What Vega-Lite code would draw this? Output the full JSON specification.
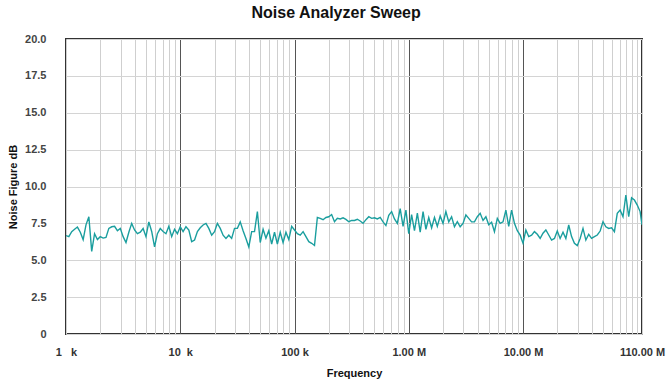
{
  "$schema": "https://vega.github.io/schema/vega-lite/v6.json",
  "width": 576,
  "height": 295,
  "autosize": {"type": "none"},
  "padding": {"left": 66, "top": 39, "right": 24, "bottom": 49},
  "background": "white",
  "title": {
    "text": "Noise Analyzer Sweep",
    "font": "Liberation Sans",
    "fontSize": 16,
    "fontWeight": "bold",
    "color": "#111111",
    "anchor": "middle",
    "frame": "bounds",
    "offset": 12
  },
  "config": {
    "view": {"stroke": "#333333", "strokeWidth": 2},
    "font": "Liberation Sans"
  },
  "data": {
    "values": [
      {"f": 1000, "nf": 6.67}, {"f": 1059, "nf": 6.6}, {"f": 1122, "nf": 6.94}, {"f": 1189, "nf": 7.1}, {"f": 1259, "nf": 7.25},
      {"f": 1334, "nf": 6.9}, {"f": 1413, "nf": 6.4}, {"f": 1496, "nf": 7.4}, {"f": 1585, "nf": 7.95}, {"f": 1679, "nf": 5.6},
      {"f": 1778, "nf": 6.8}, {"f": 1884, "nf": 6.4}, {"f": 1995, "nf": 6.6}, {"f": 2113, "nf": 6.5}, {"f": 2239, "nf": 6.55},
      {"f": 2371, "nf": 7.16}, {"f": 2512, "nf": 7.27}, {"f": 2661, "nf": 7.3}, {"f": 2818, "nf": 7.0}, {"f": 2985, "nf": 7.16},
      {"f": 3162, "nf": 6.6}, {"f": 3350, "nf": 6.2}, {"f": 3548, "nf": 6.9}, {"f": 3758, "nf": 7.5}, {"f": 3981, "nf": 7.05},
      {"f": 4217, "nf": 6.8}, {"f": 4467, "nf": 6.9}, {"f": 4732, "nf": 7.15}, {"f": 5012, "nf": 6.6}, {"f": 5309, "nf": 7.6},
      {"f": 5623, "nf": 6.95}, {"f": 5957, "nf": 5.9}, {"f": 6310, "nf": 6.8}, {"f": 6683, "nf": 7.15}, {"f": 7079, "nf": 6.95},
      {"f": 7499, "nf": 6.8}, {"f": 7943, "nf": 7.3}, {"f": 8414, "nf": 6.6}, {"f": 8913, "nf": 7.1}, {"f": 9441, "nf": 6.8},
      {"f": 10000, "nf": 7.27}, {"f": 10590, "nf": 6.94}, {"f": 11220, "nf": 7.27}, {"f": 11890, "nf": 7.05}, {"f": 12590, "nf": 6.26},
      {"f": 13340, "nf": 6.37}, {"f": 14130, "nf": 6.94}, {"f": 14960, "nf": 7.2}, {"f": 15850, "nf": 7.39}, {"f": 16790, "nf": 7.5},
      {"f": 17780, "nf": 7.16}, {"f": 18840, "nf": 6.7}, {"f": 19950, "nf": 6.94}, {"f": 21130, "nf": 7.5}, {"f": 22390, "nf": 7.16},
      {"f": 23710, "nf": 6.7}, {"f": 25120, "nf": 6.48}, {"f": 26610, "nf": 6.7}, {"f": 28180, "nf": 6.48}, {"f": 29850, "nf": 7.16},
      {"f": 31620, "nf": 7.16}, {"f": 33500, "nf": 7.6}, {"f": 35480, "nf": 7.0}, {"f": 37580, "nf": 6.48}, {"f": 39810, "nf": 5.9},
      {"f": 42170, "nf": 6.94}, {"f": 44670, "nf": 6.94}, {"f": 47320, "nf": 8.3}, {"f": 50120, "nf": 6.2}, {"f": 53090, "nf": 7.1},
      {"f": 56230, "nf": 6.5}, {"f": 59570, "nf": 7.0}, {"f": 63100, "nf": 6.1}, {"f": 66830, "nf": 6.9}, {"f": 70790, "nf": 6.1},
      {"f": 74990, "nf": 6.9}, {"f": 79430, "nf": 6.2}, {"f": 84140, "nf": 6.9}, {"f": 89130, "nf": 6.4}, {"f": 94410, "nf": 7.3},
      {"f": 100000, "nf": 7.05}, {"f": 105900, "nf": 6.8}, {"f": 112200, "nf": 6.7}, {"f": 118900, "nf": 6.94}, {"f": 125900, "nf": 6.6},
      {"f": 133400, "nf": 6.26}, {"f": 141300, "nf": 6.15}, {"f": 149600, "nf": 6.0}, {"f": 158500, "nf": 7.9}, {"f": 167900, "nf": 7.84},
      {"f": 177800, "nf": 7.75}, {"f": 188400, "nf": 7.9}, {"f": 199500, "nf": 7.95}, {"f": 211300, "nf": 8.1}, {"f": 223900, "nf": 7.61},
      {"f": 237100, "nf": 7.84}, {"f": 251200, "nf": 7.8}, {"f": 266100, "nf": 7.88}, {"f": 281800, "nf": 7.77}, {"f": 298500, "nf": 7.61},
      {"f": 316200, "nf": 7.7}, {"f": 335000, "nf": 7.7}, {"f": 354800, "nf": 7.78}, {"f": 375800, "nf": 7.66}, {"f": 398100, "nf": 7.5},
      {"f": 421700, "nf": 7.75}, {"f": 446700, "nf": 7.95}, {"f": 473200, "nf": 7.84}, {"f": 501200, "nf": 7.88}, {"f": 530900, "nf": 7.8},
      {"f": 562300, "nf": 7.9}, {"f": 595700, "nf": 7.6}, {"f": 631000, "nf": 7.35}, {"f": 668300, "nf": 8.05}, {"f": 707900, "nf": 8.3},
      {"f": 749900, "nf": 7.8}, {"f": 794300, "nf": 7.5}, {"f": 841400, "nf": 8.5}, {"f": 891300, "nf": 7.3}, {"f": 944100, "nf": 8.4},
      {"f": 1000000, "nf": 6.8}, {"f": 1059000, "nf": 8.1}, {"f": 1122000, "nf": 7.0}, {"f": 1189000, "nf": 8.2}, {"f": 1259000, "nf": 6.9},
      {"f": 1334000, "nf": 8.3}, {"f": 1413000, "nf": 7.1}, {"f": 1496000, "nf": 7.9}, {"f": 1585000, "nf": 7.2}, {"f": 1679000, "nf": 7.9},
      {"f": 1778000, "nf": 7.3}, {"f": 1884000, "nf": 8.0}, {"f": 1995000, "nf": 7.5}, {"f": 2113000, "nf": 8.3}, {"f": 2239000, "nf": 7.6},
      {"f": 2371000, "nf": 7.95}, {"f": 2512000, "nf": 7.27}, {"f": 2661000, "nf": 7.61}, {"f": 2818000, "nf": 7.27}, {"f": 2985000, "nf": 7.5},
      {"f": 3162000, "nf": 8.07}, {"f": 3350000, "nf": 7.84}, {"f": 3548000, "nf": 7.6}, {"f": 3758000, "nf": 7.61}, {"f": 3981000, "nf": 7.95},
      {"f": 4217000, "nf": 8.18}, {"f": 4467000, "nf": 7.7}, {"f": 4732000, "nf": 7.95}, {"f": 5012000, "nf": 7.4}, {"f": 5309000, "nf": 7.57},
      {"f": 5623000, "nf": 6.94}, {"f": 5957000, "nf": 7.84}, {"f": 6310000, "nf": 7.5}, {"f": 6683000, "nf": 7.6}, {"f": 7079000, "nf": 8.4},
      {"f": 7499000, "nf": 7.3}, {"f": 7943000, "nf": 8.4}, {"f": 8414000, "nf": 7.5}, {"f": 8913000, "nf": 7.0}, {"f": 9441000, "nf": 6.7},
      {"f": 10000000, "nf": 6.15}, {"f": 10590000, "nf": 7.05}, {"f": 11220000, "nf": 6.6}, {"f": 11890000, "nf": 6.7}, {"f": 12590000, "nf": 6.94},
      {"f": 13340000, "nf": 6.76}, {"f": 14130000, "nf": 6.48}, {"f": 14960000, "nf": 6.83}, {"f": 15850000, "nf": 7.05}, {"f": 16790000, "nf": 6.71},
      {"f": 17780000, "nf": 6.37}, {"f": 18840000, "nf": 6.48}, {"f": 19950000, "nf": 6.98}, {"f": 21130000, "nf": 6.48}, {"f": 22390000, "nf": 6.9},
      {"f": 23710000, "nf": 6.48}, {"f": 25120000, "nf": 7.39}, {"f": 26610000, "nf": 6.6}, {"f": 28180000, "nf": 6.15}, {"f": 29850000, "nf": 5.99},
      {"f": 31620000, "nf": 6.48}, {"f": 33500000, "nf": 7.16}, {"f": 35480000, "nf": 6.37}, {"f": 37580000, "nf": 6.76}, {"f": 39810000, "nf": 6.48},
      {"f": 42170000, "nf": 6.6}, {"f": 44670000, "nf": 6.71}, {"f": 47320000, "nf": 6.98}, {"f": 50120000, "nf": 7.61}, {"f": 53090000, "nf": 7.27},
      {"f": 56230000, "nf": 7.16}, {"f": 59570000, "nf": 7.2}, {"f": 63100000, "nf": 6.94}, {"f": 66830000, "nf": 8.18}, {"f": 70790000, "nf": 8.4},
      {"f": 74990000, "nf": 7.95}, {"f": 79430000, "nf": 9.42}, {"f": 84140000, "nf": 7.95}, {"f": 89130000, "nf": 9.24}, {"f": 94410000, "nf": 9.08},
      {"f": 100000000, "nf": 8.74}, {"f": 105900000, "nf": 8.3}, {"f": 110000000, "nf": 7.4}
    ]
  },
  "mark": {"type": "line", "color": "#1a9e9e", "strokeWidth": 1.4, "clip": true},
  "encoding": {
    "x": {
      "field": "f",
      "type": "quantitative",
      "scale": {"type": "log", "domain": [1000, 110000000], "nice": false},
      "axis": {
        "title": "Frequency",
        "titleFont": "Liberation Sans",
        "titleFontSize": 11,
        "titleFontWeight": "bold",
        "titleColor": "#111111",
        "titlePadding": 10,
        "values": [1000, 2000, 3000, 4000, 5000, 6000, 7000, 8000, 9000,
                   10000, 20000, 30000, 40000, 50000, 60000, 70000, 80000, 90000,
                   100000, 200000, 300000, 400000, 500000, 600000, 700000, 800000, 900000,
                   1000000, 2000000, 3000000, 4000000, 5000000, 6000000, 7000000, 8000000, 9000000,
                   10000000, 20000000, 30000000, 40000000, 50000000, 60000000, 70000000, 80000000, 90000000,
                   100000000, 110000000],
        "labelExpr": "datum.value == 1000 ? '1\u00a0\u00a0\u00a0k' : datum.value == 10000 ? '10\u00a0\u00a0k' : datum.value == 100000 ? '100 k' : datum.value == 1000000 ? '1.00 M' : datum.value == 10000000 ? '10.00 M' : datum.value == 110000000 ? '110.00 M' : ''",
        "labelFont": "Liberation Sans",
        "labelFontSize": 11,
        "labelFontWeight": "bold",
        "labelColor": "#333333",
        "labelPadding": 12,
        "labelFlush": false,
        "labelOverlap": false,
        "ticks": false,
        "tickSize": 0,
        "domain": false,
        "grid": true,
        "gridColor": {"condition": {"test": "indexof([10000,100000,1000000,10000000], datum.value) >= 0", "value": "#555555"}, "value": "#cfcfcf"},
        "gridWidth": 1
      }
    },
    "y": {
      "field": "nf",
      "type": "quantitative",
      "scale": {"domain": [0, 20], "nice": false},
      "axis": {
        "title": "Noise Figure dB",
        "titleFont": "Liberation Sans",
        "titleFontSize": 11,
        "titleFontWeight": "bold",
        "titleColor": "#111111",
        "titlePadding": 6,
        "values": [0, 2.5, 5, 7.5, 10, 12.5, 15, 17.5, 20],
        "labelExpr": "datum.value == 0 ? '0' : format(datum.value, '.1f')",
        "labelFont": "Liberation Sans",
        "labelFontSize": 11,
        "labelFontWeight": "bold",
        "labelColor": "#444444",
        "labelPadding": 20,
        "ticks": false,
        "tickSize": 0,
        "domain": false,
        "grid": true,
        "gridColor": "#d4d4d4",
        "gridWidth": 1
      }
    }
  }
}
